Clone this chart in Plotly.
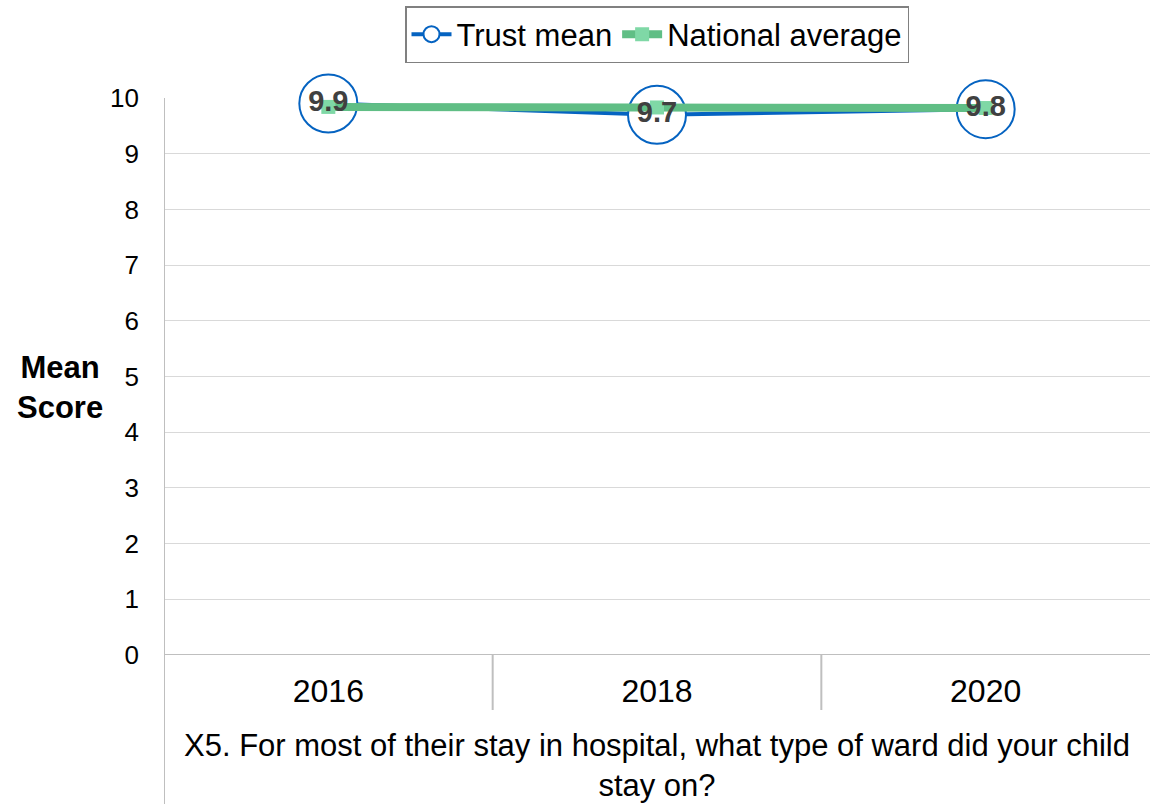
import plotly.graph_objects as go

years = ["2016", "2018", "2020"]
trust_mean = [9.9, 9.7, 9.8]
national_average = [9.84, 9.83, 9.82]
y_ticks = list(range(0, 11))
x_title = "X5. For most of their stay in hospital, what type of ward did your child<br>stay on?"

BLUE = "#0563C1"
GREEN = "#60BE85"
GRID = "#D9D9D9"
AXIS = "#BFBFBF"
FONT = "Liberation Sans, Arial, sans-serif"

W, H = 1150, 804
L, R, T, B = 164, 0, 98, 149
plot_h = H - T - B

fig = go.Figure()

fig.add_trace(go.Scatter(
    x=years, y=trust_mean, name="Trust mean", mode="lines+markers",
    line=dict(color=BLUE, width=4), cliponaxis=False,
    marker=dict(symbol="circle", size=58, color="white",
                line=dict(color=BLUE, width=2)),
))
fig.add_trace(go.Scatter(
    x=years, y=national_average, name="National average", mode="lines+markers",
    line=dict(color=GREEN, width=8), cliponaxis=False,
    marker=dict(symbol="square", size=14, color="#7FD8A6"),
))
# value labels for the trust series
fig.add_trace(go.Scatter(
    x=years, y=trust_mean, mode="text", showlegend=False, cliponaxis=False,
    text=[f"{v:.1f}" for v in trust_mean], textposition="middle center",
    textfont=dict(family=FONT, size=29, color="#404040", weight="bold"),
    hoverinfo="skip",
))

shapes = []
# category separators below the axis
for xb in [0.5, 1.5]:
    shapes.append(dict(type="line", xref="x", yref="paper", x0=xb, x1=xb,
                       y0=0, y1=-55 / plot_h, line=dict(color=AXIS, width=2)))
# left axis line running down through the label area
shapes.append(dict(type="line", xref="x", yref="paper", x0=-0.5, x1=-0.5,
                   y0=1, y1=-B / plot_h, line=dict(color=AXIS, width=2)))
# bottom axis line
shapes.append(dict(type="line", xref="paper", yref="y", x0=0, x1=1,
                   y0=0, y1=0, line=dict(color=AXIS, width=2)))

annotations = [
    dict(text="<b>Mean<br>Score</b>", xref="paper", yref="paper",
         x=-104 / (W - L), y=(655 - 388) / plot_h, xanchor="center",
         yanchor="middle", showarrow=False, font=dict(size=31, color="black")),
    # category title under the axis
    dict(text=x_title, xref="paper", yref="paper",
         x=0.5, y=(655 - 765) / plot_h, xanchor="center",
         yanchor="middle", showarrow=False, font=dict(size=31, color="black")),
]

fig.update_layout(
    width=W, height=H,
    margin=dict(l=L, r=R, t=T, b=B),
    paper_bgcolor="white", plot_bgcolor="white",
    font=dict(family=FONT, color="black"),
    shapes=shapes,
    annotations=annotations,
    showlegend=True,
    legend=dict(orientation="h", x=0.5, xanchor="center", y=1 + (T - 6) / plot_h,
                yanchor="top", font=dict(size=31), bordercolor="#808080",
                borderwidth=1.5, bgcolor="white", itemwidth=40,
                tracegroupgap=0),
    xaxis=dict(type="category", range=[-0.5, 2.5], showgrid=False,
               showline=False, ticks="", tickfont=dict(size=32),
               ticklabelstandoff=14, zeroline=False),
    yaxis=dict(range=[0, 10], tickvals=y_ticks, showgrid=True,
               gridcolor=GRID, gridwidth=1, zeroline=False, showline=False,
               ticks="", tickfont=dict(size=26), ticklabelstandoff=24),
)

fig.write_html("out.html")
